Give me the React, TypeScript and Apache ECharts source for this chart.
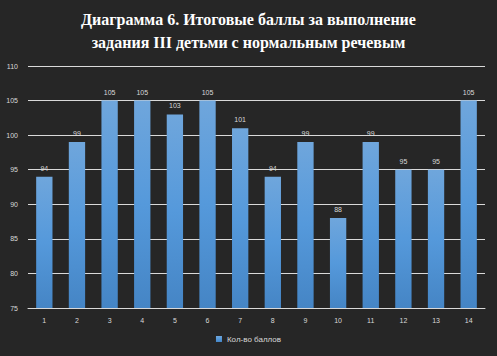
import React, { useEffect, useRef } from "react";
import * as echarts from "echarts";

const titleLines = [
  "Диаграмма 6. Итоговые баллы за выполнение",
  "задания III детьми с нормальным речевым",
];
const categories = ["1", "2", "3", "4", "5", "6", "7", "8", "9", "10", "11", "12", "13", "14"];
const seriesName = "Кол-во баллов";
const values = [94, 99, 105, 105, 103, 105, 101, 94, 99, 88, 99, 95, 95, 105];
const yMin = 75;
const yMax = 110;
const yInterval = 5;

export default function App() {
  const ref = useRef<HTMLDivElement>(null);
  useEffect(() => {
    if (!ref.current) return;
    const chart = echarts.init(ref.current, null, { renderer: "svg" });
    chart.setOption({
      animation: false,
      backgroundColor: "#262626",
      title: {
        text: titleLines.join("\n"),
        left: "center",
        top: 3,
        textStyle: {
          color: "#ffffff",
          fontFamily: "Liberation Serif",
          fontWeight: "bold",
          fontSize: 16,
          lineHeight: 23,
        },
      },
      legend: {
        bottom: 8,
        left: "center",
        itemWidth: 6,
        itemHeight: 6,
        itemGap: 3,
        textStyle: { color: "#d9d9d9", fontSize: 8, fontFamily: "Liberation Sans" },
        data: [{ name: seriesName, icon: "rect" }],
      },
      grid: { left: 28, right: 12, top: 66, bottom: 48 },
      xAxis: {
        type: "category",
        data: categories,
        axisLine: { lineStyle: { color: "#d9d9d9", width: 1 } },
        axisTick: { show: false },
        axisLabel: { color: "#d9d9d9", fontSize: 7, margin: 9 },
      },
      yAxis: {
        type: "value",
        min: yMin,
        max: yMax,
        interval: yInterval,
        axisLine: { show: false },
        axisTick: { show: false },
        axisLabel: { color: "#d9d9d9", fontSize: 7, margin: 10 },
        splitLine: { lineStyle: { color: "#d9d9d9", width: 1 } },
      },
      series: [
        {
          name: seriesName,
          type: "bar",
          data: values,
          barWidth: "50%",
          itemStyle: {
            color: new echarts.graphic.LinearGradient(0, 0, 0, 1, [
              { offset: 0, color: "#6fa6dc" },
              { offset: 0.5, color: "#5599db" },
              { offset: 1, color: "#4585c5" },
            ]),
          },
          label: {
            show: true,
            position: "top",
            distance: 5,
            color: "#d9d9d9",
            fontSize: 7,
          },
        },
      ],
    });
    return () => chart.dispose();
  }, []);
  return (
    <div
      ref={ref}
      style={{ position: "fixed", left: 0, top: 0, width: 497, height: 356 }}
    />
  );
}
